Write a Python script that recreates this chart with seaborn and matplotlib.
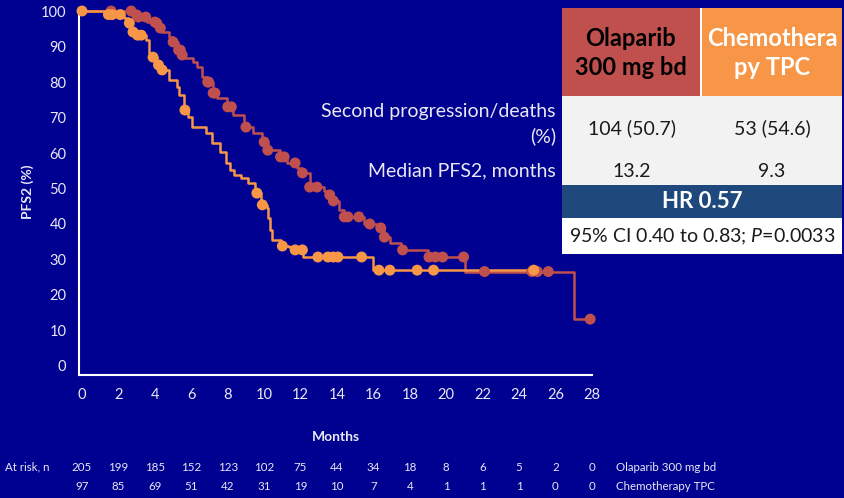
import numpy as np
import pandas as pd
import matplotlib
matplotlib.use("Agg")
import matplotlib.pyplot as plt
from matplotlib.patches import Rectangle
import seaborn as sns

# ---- data -------------------------------------------------------------
# Kaplan-Meier step points (month, PFS2 % after the step)
ola_time = [0, 3.0, 3.1, 3.55, 4.1, 4.3, 4.4, 4.8, 5.0, 5.25, 5.5, 5.65, 6.1, 6.3,
            6.6, 6.85, 7.2, 7.4, 7.95, 8.3, 8.9, 9.4, 9.9, 10.2, 10.85, 11.25, 11.8,
            12.05, 12.5, 13.3, 13.6, 13.75, 14.1, 14.4, 15.5, 16.2, 16.6, 16.9, 17.5,
            19.0, 21.0, 27.0, 28.0]
ola_surv = [100, 98.9, 98.3, 96.9, 96.6, 95.2, 94.1, 92.7, 91.3, 89.0, 87.6, 86.8, 85.6, 84.2,
            81.4, 80.0, 76.9, 75.5, 73.0, 70.7, 67.3, 65.6, 63.1, 60.8, 58.9, 57.2, 55.8,
            54.4, 50.4, 49.3, 48.2, 46.5, 44.0, 42.0, 40.0, 38.9, 36.3, 34.6, 32.7,
            30.7, 26.6, 13.2, 13.2]
ola_censor = [1.6, 2.7, 3.0, 3.1, 3.5, 4.0, 4.1, 4.3, 5.0, 5.3, 5.4, 5.5, 6.9, 6.95, 7.2,
              7.3, 8.0, 8.2, 9.0, 10.0, 10.2, 10.9, 11.1, 11.7, 12.1, 12.5, 12.9, 13.6,
              13.8, 14.4, 14.6, 15.2, 15.8, 16.4, 16.6, 17.6, 19.05, 19.4, 19.8, 20.95,
              22.1, 24.7, 25.0, 25.6, 27.9]

chemo_time = [0, 1.45, 2.3, 2.55, 2.75, 3.05, 3.5, 3.7, 3.9, 4.1, 4.4, 4.75, 5.2, 5.3,
              5.6, 5.8, 6.05, 6.8, 7.15, 7.55, 7.9, 8.1, 8.35, 8.75, 9.1, 9.5, 9.8,
              10.15, 10.2, 10.3, 10.45, 10.95, 11.35, 11.5, 12.15, 16.0, 24.8]
chemo_surv = [100, 99.0, 97.9, 96.6, 94.1, 93.2, 91.8, 88.2, 87.0, 84.8, 83.4, 80.6, 78.6, 76.3,
              72.1, 70.1, 67.3, 65.6, 62.8, 60.3, 57.2, 55.2, 53.8, 53.0, 51.5, 48.7, 45.4,
              44.5, 41.7, 38.3, 35.5, 33.8, 33.5, 32.7, 30.7, 27.0, 27.0]
chemo_censor = [0.0, 1.45, 1.65, 2.1, 2.6, 2.8, 3.05, 3.25, 3.9, 4.2, 4.4, 5.65, 9.6, 9.9,
                11.0, 11.7, 12.1, 12.95, 13.5, 13.8, 14.05, 15.35, 16.3, 16.9, 18.4,
                19.3, 24.8]

risk_months = list(range(0, 29, 2))
ola_at_risk = [205, 199, 185, 152, 123, 102, 75, 44, 34, 18, 8, 6, 5, 2, 0]
chemo_at_risk = [97, 85, 69, 51, 42, 31, 19, 10, 7, 4, 1, 1, 1, 0, 0]

arm_labels = ["Olaparib 300 mg bd", "Chemotherapy TPC"]
header_labels = ["Olaparib\n300 mg bd", "Chemothera\npy TPC"]
row_labels = ["Second progression/deaths", "(%)", "Median PFS2, months"]
events = ["104 (50.7)", "53 (54.6)"]
medians = ["13.2", "9.3"]
hr_text = "HR 0.57"
ci_text = r"95% CI 0.40 to 0.83; $\mathit{P}$=0.0033"

# ---- style ------------------------------------------------------------
BG = "#000091"
RED = "#C0504D"
ORANGE = "#F79646"
FG = "#E9E9F5"

sns.set_theme(style="white")
plt.rcParams["font.family"] = ["Lato", "DejaVu Sans"]
plt.rcParams["mathtext.fontset"] = "custom"
plt.rcParams["mathtext.rm"] = "Lato"
plt.rcParams["mathtext.it"] = "Lato:italic"

W, H = 845, 498
fig = plt.figure(figsize=(W / 100, H / 100), dpi=100, facecolor=BG)


def fx(x):
    return x / W


def fy(y):
    return 1 - y / H


ax = fig.add_axes([fx(79), fy(375), fx(592) - fx(79), fy(8) - fy(375)])
ax.set_facecolor(BG)


def censor_y(times, surv, pts):
    idx = np.searchsorted(times, pts, side="right") - 1
    return np.asarray(surv)[idx]


curves = pd.concat([
    pd.DataFrame({"month": ola_time, "pfs2": ola_surv, "arm": arm_labels[0]}),
    pd.DataFrame({"month": chemo_time, "pfs2": chemo_surv, "arm": arm_labels[1]}),
])
marks = pd.concat([
    pd.DataFrame({"month": ola_censor,
                  "pfs2": censor_y(ola_time, ola_surv, ola_censor), "arm": arm_labels[0]}),
    pd.DataFrame({"month": chemo_censor,
                  "pfs2": censor_y(chemo_time, chemo_surv, chemo_censor), "arm": arm_labels[1]}),
])
palette = {arm_labels[0]: RED, arm_labels[1]: ORANGE}

sns.lineplot(data=curves, x="month", y="pfs2", hue="arm", palette=palette,
             estimator=None, sort=False, drawstyle="steps-post", linewidth=1.8,
             legend=False, ax=ax, zorder=3)
sns.scatterplot(data=marks, x="month", y="pfs2", hue="arm", palette=palette,
                s=62, linewidth=0, legend=False, ax=ax, zorder=4, clip_on=False)

ax.set_xlim(-0.165, 28.0)
ax.set_ylim(-2.54, 100.85)
ax.set_xticks(risk_months)
ax.set_yticks(range(0, 101, 10))
for s in ["top", "right"]:
    ax.spines[s].set_visible(False)
for s in ["left", "bottom"]:
    ax.spines[s].set_color("white")
    ax.spines[s].set_linewidth(1.5)
ax.tick_params(axis="both", colors="white", direction="out", length=5, width=1.5,
               labelcolor=FG, labelsize=10.5, pad=4)
ax.set_xlabel("Months", color=FG, fontsize=10, fontweight="bold", labelpad=21)
ax.set_ylabel("PFS2 (%)", color=FG, fontsize=10, fontweight="bold", labelpad=5)

# ---- number at risk ---------------------------------------------------
fig.text(fx(5), fy(467), "At risk, n", color=FG, fontsize=8.3, va="center", ha="left")
for m, a, b in zip(risk_months, ola_at_risk, chemo_at_risk):
    xpix = 82 + m * 18.21
    fig.text(fx(xpix), fy(467), str(a), color=FG, fontsize=8.3, va="center", ha="center")
    fig.text(fx(xpix), fy(486), str(b), color=FG, fontsize=8.3, va="center", ha="center")
fig.text(fx(616), fy(467), arm_labels[0], color=FG, fontsize=8.3, va="center", ha="left")
fig.text(fx(616), fy(486), arm_labels[1], color=FG, fontsize=8.3, va="center", ha="left")


# ---- summary table ----------------------------------------------------
def box(x0, y0, x1, y1, color):
    fig.add_artist(Rectangle((fx(x0), fy(y1)), fx(x1) - fx(x0), fy(y0) - fy(y1),
                             transform=fig.transFigure, facecolor=color,
                             edgecolor="none", zorder=1))


box(562, 8, 700, 96, RED)
box(702, 8, 842, 96, ORANGE)
box(700, 8, 702, 96, "white")
box(562, 96, 842, 185, "#F2F2F2")
box(562, 185, 842, 218, "#1F497D")
box(562, 218, 842, 254, "white")

fig.text(fx(631), fy(53), header_labels[0], color="black", fontsize=17, fontweight="bold",
         ha="center", va="center", linespacing=1.35, zorder=2)
fig.text(fx(772), fy(53), header_labels[1], color="white", fontsize=17, fontweight="bold",
         ha="center", va="center", linespacing=1.35, zorder=2)

fig.text(fx(556), fy(111), row_labels[0], color=FG, fontsize=14, ha="right", va="center")
fig.text(fx(556), fy(136), row_labels[1], color=FG, fontsize=14, ha="right", va="center")
fig.text(fx(556), fy(171), row_labels[2], color=FG, fontsize=14, ha="right", va="center")

fig.text(fx(632), fy(128), events[0], color="#1a1a1a", fontsize=14, ha="center", va="center", zorder=2)
fig.text(fx(772), fy(128), events[1], color="#1a1a1a", fontsize=14, ha="center", va="center", zorder=2)
fig.text(fx(632), fy(171), medians[0], color="#1a1a1a", fontsize=14, ha="center", va="center", zorder=2)
fig.text(fx(772), fy(171), medians[1], color="#1a1a1a", fontsize=14, ha="center", va="center", zorder=2)
fig.text(fx(702), fy(202), hr_text, color="white", fontsize=16, fontweight="bold",
         ha="center", va="center", zorder=2)
fig.text(fx(702), fy(237), ci_text, color="#1a1a1a", fontsize=14, ha="center", va="center", zorder=2)

fig.savefig("out.png", dpi=100, facecolor=BG)
